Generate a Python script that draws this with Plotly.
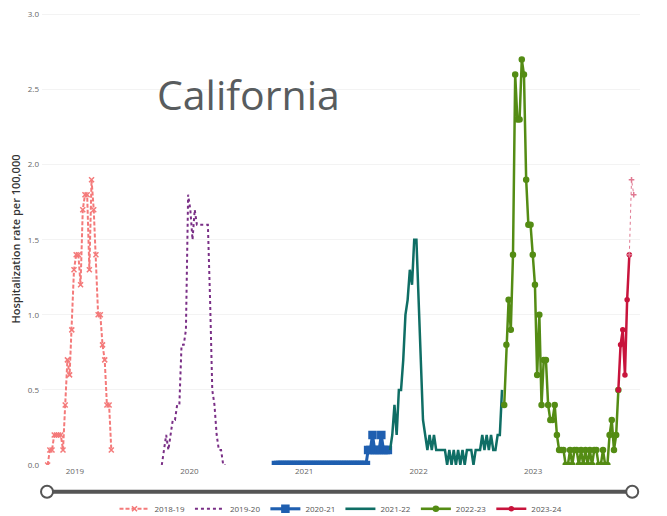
import pandas as pd
import plotly.graph_objects as go

# weekly hospitalization rates per 100,000, California, by season
season_names = ["2018-19", "2019-20", "2020-21", "2021-22", "2022-23", "2023-24"]
season_starts = ["2018-10-06", "2019-10-05", "2020-10-03", "2021-10-02", "2022-10-01", "2023-09-30"]

rate_2018_19 = [0.0, 0.1, 0.1, 0.2, 0.2, 0.2, 0.2, 0.1, 0.4, 0.7,
                0.6, 0.9, 1.3, 1.4, 1.4, 1.2, 1.7, 1.8, 1.8, 1.3,
                1.9, 1.7, 1.4, 1.0, 1.0, 0.8, 0.7, 0.4, 0.4, 0.1]
rate_2019_20 = [0.0, 0.1, 0.2, 0.1, 0.2, 0.3, 0.3, 0.4, 0.4, 0.8,
                0.8, 0.9, 1.8, 1.7, 1.5, 1.7, 1.6, 1.6, 1.6, 1.6,
                1.6, 1.6, 1.1, 0.5, 0.4, 0.2, 0.1, 0.1, 0.0, 0.0]
rate_2020_21 = [0.0, 0.0, 0.0, 0.0, 0.0, 0.0, 0.0, 0.0, 0.0, 0.0,
                0.0, 0.0, 0.0, 0.0, 0.0, 0.0, 0.0, 0.0, 0.0, 0.0,
                0.0, 0.0, 0.0, 0.0, 0.0, 0.0, 0.0, 0.0, 0.0, 0.0,
                0.0, 0.0, 0.0, 0.0, 0.0, 0.0, 0.0, 0.0, 0.0, 0.0,
                0.0, 0.0, 0.1, 0.1, 0.2, 0.1, 0.1, 0.1, 0.2, 0.1,
                0.1, 0.1]
rate_2021_22 = [0.1, 0.2, 0.4, 0.2, 0.5, 0.5, 0.7, 1.0, 1.1, 1.3,
                1.2, 1.5, 1.5, 1.1, 0.7, 0.3, 0.2, 0.1, 0.2, 0.1,
                0.2, 0.1, 0.1, 0.1, 0.1, 0.1, 0.0, 0.1, 0.0, 0.1,
                0.0, 0.1, 0.0, 0.1, 0.0, 0.1, 0.1, 0.1, 0.0, 0.1,
                0.1, 0.1, 0.2, 0.1, 0.2, 0.1, 0.2, 0.1, 0.1, 0.2,
                0.2, 0.5]
rate_2022_23 = [0.4, 0.8, 1.1, 0.9, 1.4, 2.6, 2.3, 2.3, 2.7, 2.6,
                1.9, 1.6, 1.6, 1.4, 1.2, 0.6, 1.0, 0.4, 0.7, 0.7,
                0.4, 0.3, 0.3, 0.4, 0.2, 0.1, 0.1, 0.1, 0.0, 0.0,
                0.1, 0.0, 0.1, 0.1, 0.0, 0.1, 0.0, 0.1, 0.0, 0.1,
                0.0, 0.1, 0.1, 0.0, 0.0, 0.1, 0.0, 0.0, 0.2, 0.3,
                0.1, 0.2, 0.5]
rate_2023_24 = [0.5, 0.8, 0.9, 0.6, 1.1, 1.4]
# last weeks, not final yet (dashed)
prelim_start = "2023-11-04"
rate_prelim = [1.4, 1.9, 1.8]

all_rates = [rate_2018_19, rate_2019_20, rate_2020_21, rate_2021_22, rate_2022_23, rate_2023_24]

colors = ["#f47a7a", "#7a2f86", "#1f5fb0", "#0f6e65", "#548c14", "#c8143c"]
dashes = ["4px,2px", "dot", "solid", "solid", "solid", "solid"]
widths = [2, 2, 3, 2.5, 2.5, 2.5]
symbols = ["x-thin", None, "square", None, "circle", "circle"]
msizes = [5, 0, 7, 0, 5, 4]

fig = go.Figure()
for name, start, vals, c, d, w, s, ms in zip(season_names, season_starts, all_rates,
                                            colors, dashes, widths, symbols, msizes):
    dates = pd.date_range(start, periods=len(vals), freq="7D")
    if s is None:
        mode = "lines"
        marker = None
    else:
        mode = "lines+markers"
        marker = dict(symbol=s, size=ms, color=c, line=dict(color=c, width=1.5))
    fig.add_trace(go.Scatter(x=dates, y=vals, name=name, mode=mode,
                             line=dict(color=c, dash=d, width=w), marker=marker))

prelim_dates = pd.date_range(prelim_start, periods=len(rate_prelim), freq="7D")
fig.add_trace(go.Scatter(x=prelim_dates, y=rate_prelim, mode="lines+markers", showlegend=False,
                         line=dict(color="#e07891", dash="dot", width=1),
                         marker=dict(symbol="cross-thin", size=4, color="#e07891",
                                     line=dict(color="#e07891", width=1.5))))

# slider decoration under the axis
slider = [0.0084, 0.987]
shapes = [dict(type="line", xref="paper", yref="paper", x0=slider[0], x1=slider[1],
               y0=-0.0593, y1=-0.0593, line=dict(color="#555555", width=4), layer="below")]
for sx in slider:
    shapes.append(dict(type="circle", xref="paper", yref="paper", xsizemode="pixel", ysizemode="pixel",
                       xanchor=sx, yanchor=-0.0593, x0=-6, x1=6, y0=-6, y1=6,
                       fillcolor="white", line=dict(color="#555555", width=2)))

# page body has an 8px margin, so the figure is 8px smaller than the window
fig.update_layout(
    width=659, height=508,
    margin=dict(l=34, r=27, t=4.5, b=51, autoexpand=False),
    paper_bgcolor="white", plot_bgcolor="white",
    font=dict(family="Open Sans, sans-serif", color="#666666"),
    showlegend=True,
    legend=dict(orientation="h", x=0.5, xanchor="center", y=-0.097, yanchor="middle",
                font=dict(size=8, color="#555555"), itemwidth=30, tracegroupgap=0),
    shapes=shapes,
    annotations=[dict(text="California", xref="paper", yref="paper", x=0.189, y=0.82,
                      xanchor="left", yanchor="middle", showarrow=False,
                      font=dict(size=41, color="#585c5e", family="Open Sans, sans-serif"))],
)
fig.update_xaxes(type="date", range=["2018-09-18", "2023-12-08"], showgrid=False, zeroline=False,
                 showline=False, tick0="2019-01-01", dtick="M12", tickformat="%Y",
                 tickfont=dict(size=8, color="#666666"), ticks="")
fig.update_yaxes(range=[0, 3.01], dtick=0.5, tickformat=".1f", showgrid=True, gridcolor="#f3f3f3",
                 zeroline=False, showline=False, ticks="", tickfont=dict(size=8, color="#666666"),
                 ticklabeloverflow="allow", ticklabelstandoff=2,
                 title=dict(text="Hospitalization rate per 100,000", standoff=8,
                            font=dict(size=11, color="#333333", weight=600)))

fig.write_html("out.html", config={"displayModeBar": False})
